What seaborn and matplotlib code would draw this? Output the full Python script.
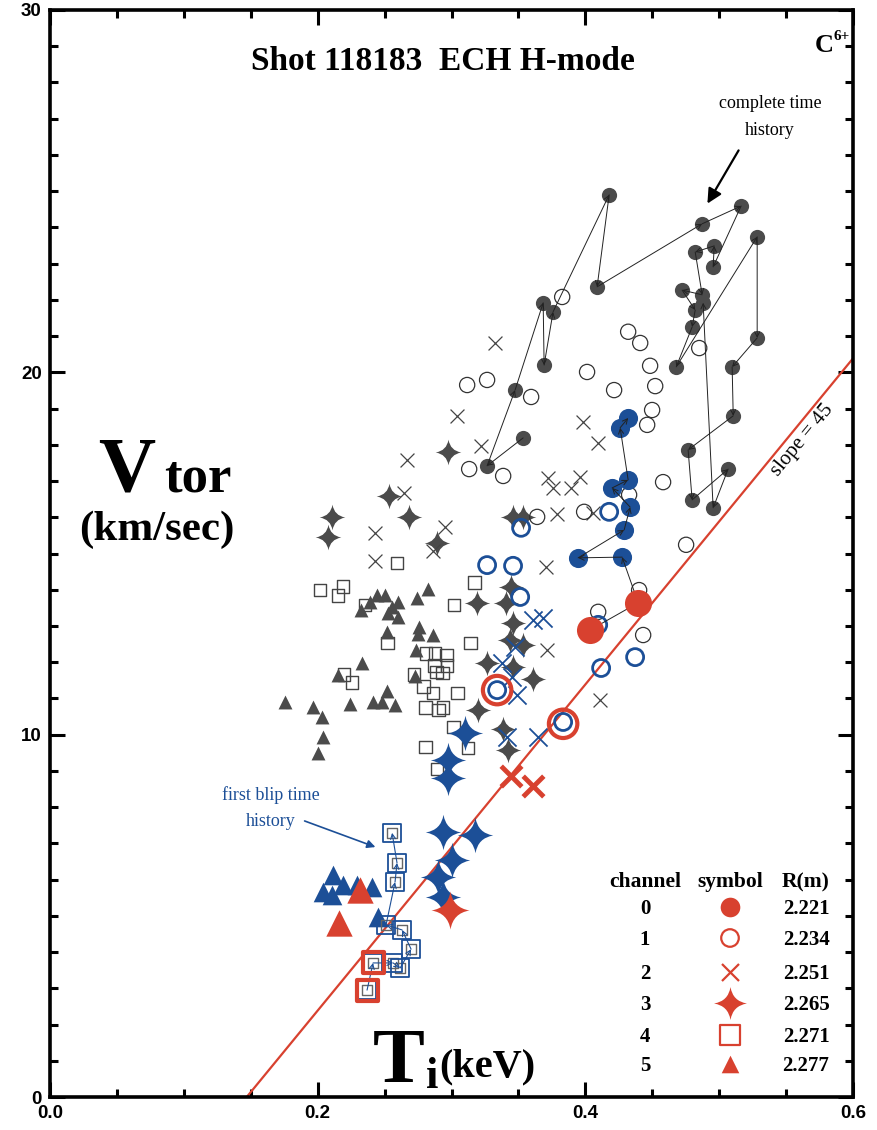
import numpy as np
import pandas as pd
import matplotlib
matplotlib.use("Agg")
import matplotlib.pyplot as plt
from matplotlib.path import Path
from matplotlib.ticker import MultipleLocator, FormatStrFormatter
import seaborn as sns

# ---- data (Ti in keV, Vtor in km/s) ----
# channel 0 : complete time history (grey, time ordered)
ch0_ti = [0.3535, 0.3266, 0.3475, 0.3685, 0.3692, 0.3759, 0.4178, 0.4088, 0.4873, 0.5164,
          0.4955, 0.4963, 0.4821, 0.4873, 0.4723, 0.4821, 0.4798, 0.4679, 0.5284, 0.5284,
          0.5097, 0.5105, 0.4768, 0.4798, 0.5067, 0.4955, 0.4880]
ch0_v = [18.19, 17.42, 19.51, 21.92, 20.20, 21.67, 24.90, 22.36, 24.10, 24.59,
         22.91, 23.49, 23.32, 22.14, 22.27, 21.72, 21.25, 20.15, 23.74, 20.95,
         20.15, 18.80, 17.86, 16.48, 17.33, 16.26, 21.92]
# channel 0 : blip (blue, time ordered, first two red)
ch0b_ti = [0.4036, 0.4395, 0.4275, 0.3946, 0.4290, 0.4335, 0.4200, 0.4320, 0.4260, 0.4320]
ch0b_v = [12.89, 13.64, 14.90, 14.88, 15.65, 16.28, 16.81, 17.03, 18.47, 18.74]
ch0r_ti = [0.4036, 0.4395]
ch0r_v = [12.89, 13.64]

ch1_ti = [0.3827, 0.3266, 0.3117, 0.3595, 0.4013, 0.4320, 0.4410, 0.4484, 0.4215, 0.4522,
          0.4499, 0.4462, 0.4851, 0.3132, 0.3386, 0.4581, 0.3991, 0.3640, 0.4753, 0.4096,
          0.4402, 0.4432, 0.4327]
ch1_v = [22.08, 19.79, 19.65, 19.32, 20.01, 21.12, 20.81, 20.18, 19.51, 19.62,
         18.96, 18.55, 20.67, 17.33, 17.14, 16.97, 16.15, 16.01, 15.24, 13.39,
         13.99, 12.75, 16.62]
ch1b_ti = [0.3520, 0.3266, 0.3460, 0.3513, 0.3341, 0.3834, 0.4178, 0.4096, 0.4118, 0.4372]
ch1b_v = [15.71, 14.68, 14.66, 13.80, 11.23, 10.35, 16.15, 13.03, 11.84, 12.14]
ch1r_ti = [0.3341, 0.3834]
ch1r_v = [11.23, 10.30]

ch2_ti = [0.3326, 0.3042, 0.2668, 0.3221, 0.3984, 0.4096, 0.3722, 0.3759, 0.3894, 0.3961,
          0.3789, 0.4058, 0.2646, 0.2429, 0.2952, 0.2862, 0.2429, 0.3707, 0.3714, 0.4111]
ch2_v = [20.81, 18.80, 17.58, 17.97, 18.63, 18.05, 17.09, 16.81, 16.81, 17.11,
         16.09, 16.12, 16.67, 15.57, 15.73, 15.07, 14.79, 14.63, 12.34, 10.96]
ch2b_ti = [0.3610, 0.3685, 0.3475, 0.3378, 0.3453, 0.3490, 0.3416, 0.3647]
ch2b_v = [13.17, 13.22, 12.42, 11.98, 11.59, 11.10, 9.94, 9.94]
ch2r_ti = [0.3445, 0.3610]
ch2r_v = [8.86, 8.58]

ch3_ti = [0.2534, 0.2108, 0.2683, 0.2078, 0.2892, 0.3460, 0.3535, 0.3191, 0.3408, 0.3445,
          0.3460, 0.3438, 0.3535, 0.3266, 0.3460, 0.3610, 0.3199, 0.3386, 0.3423, 0.2975]
ch3_v = [16.59, 16.01, 16.01, 15.46, 15.29, 16.01, 16.01, 13.64, 13.64, 14.08,
         13.08, 12.61, 12.48, 11.98, 11.87, 11.54, 10.68, 10.16, 9.58, 17.80]
ch3b_ti = [0.3102, 0.2975, 0.2975, 0.2937, 0.3176, 0.3004, 0.2900, 0.2937]
ch3b_v = [10.05, 9.30, 8.80, 7.31, 7.23, 6.54, 6.07, 5.52]
ch3r_ti = [0.2990]
ch3r_v = [5.16]

ch4_ti = [0.2593, 0.2018, 0.2190, 0.2152, 0.2354, 0.3019, 0.3169, 0.2519, 0.3139, 0.2810,
          0.2877, 0.2960, 0.2870, 0.2967, 0.2885, 0.2930, 0.2197, 0.2257, 0.2720, 0.2788,
          0.2862, 0.3042, 0.2803, 0.2900, 0.2937, 0.3012, 0.2803, 0.3124, 0.2892]
ch4_v = [14.74, 13.99, 14.08, 13.83, 13.58, 13.58, 14.19, 12.53, 12.53, 12.25,
         12.25, 12.20, 11.92, 11.92, 11.73, 11.70, 11.65, 11.45, 11.65, 11.32,
         11.15, 11.15, 10.74, 10.68, 10.76, 10.21, 9.66, 9.63, 9.05]
# first blip time history (time ordered, first two red)
ch4b_ti = [0.2369, 0.2414, 0.2564, 0.2616, 0.2698, 0.2631, 0.2511, 0.2578, 0.2593, 0.2556]
ch4b_v = [2.95, 3.70, 3.70, 3.56, 4.08, 4.61, 4.75, 5.93, 6.46, 7.29]
ch4r_ti = [0.2369, 0.2414]
ch4r_v = [2.95, 3.70]

ch5_ti = [0.1756, 0.1966, 0.2033, 0.2040, 0.2003, 0.2332, 0.2152, 0.2242, 0.2414, 0.2519,
          0.2578, 0.2481, 0.2444, 0.2504, 0.2601, 0.2556, 0.2324, 0.2392, 0.2743, 0.2825,
          0.2526, 0.2601, 0.2519, 0.2758, 0.2862, 0.2750, 0.2735, 0.2728]
ch5_v = [10.90, 10.76, 10.49, 9.94, 9.49, 11.98, 11.65, 10.85, 10.90, 11.21,
         10.82, 10.90, 13.86, 13.86, 13.66, 13.52, 13.44, 13.66, 13.77, 14.02,
         13.36, 13.25, 12.83, 12.97, 12.75, 12.78, 12.34, 11.62]
ch5b_ti = [0.2115, 0.2040, 0.2190, 0.2294, 0.2407, 0.2108, 0.2451]
ch5b_v = [6.13, 5.66, 5.85, 5.85, 5.80, 5.58, 4.97]
ch5r_ti = [0.2317, 0.2160]
ch5r_v = [5.71, 4.80]

slope = 45.0        # km/s per keV
ti_zero = 0.147     # keV where line crosses 0
line_ti = [ti_zero, 0.6]

channels = ["0", "1", "2", "3", "4", "5"]
radii = ["2.221", "2.234", "2.251", "2.265", "2.271", "2.277"]

GRAY = "#4b4b4b"
BLUE = "#1c4f97"
RED = "#d8412f"

# concave four point star
star = Path([(0, 1), (0.14, 0.14), (1, 0), (0.14, -0.14), (0, -1), (-0.14, -0.14),
             (-1, 0), (-0.14, 0.14), (0, 1), (0, 1)],
            [Path.MOVETO, Path.CURVE3, Path.CURVE3, Path.CURVE3, Path.CURVE3,
             Path.CURVE3, Path.CURVE3, Path.CURVE3, Path.CURVE3, Path.CLOSEPOLY])

sns.set_style("ticks")
plt.rcParams['font.family'] = ['Liberation Serif', 'DejaVu Serif']
plt.rcParams['text.color'] = 'black'
plt.rcParams['xtick.color'] = 'black'
plt.rcParams['ytick.color'] = 'black'

W, H = 877, 1130
fig = plt.figure(figsize=(W / 100, H / 100), dpi=100)
ax = fig.add_axes([50 / W, 33 / H, 803 / W, 1087 / H])


def pts(px, py):
    return px / W, 1 - py / H


def filled(x, y, m, s, c, z, lw=0):
    sns.scatterplot(x=x, y=y, marker=m, s=s, color=c, edgecolor=c, linewidth=lw,
                    zorder=z, ax=ax, legend=False)


def hollow(x, y, m, s, c, z, lw=1.0):
    sns.scatterplot(x=x, y=y, marker=m, s=s, color=c, facecolor="none", edgecolor=c,
                    linewidth=lw, zorder=z, ax=ax, legend=False)


def cross(x, y, s, c, z, lw=1.0):
    sns.scatterplot(x=x, y=y, marker="x", s=s, color=c, linewidth=lw, zorder=z,
                    ax=ax, legend=False)


def arrows(x, y, c, lw, z):
    for i in range(len(x) - 1):
        ax.annotate("", xy=(x[i + 1], y[i + 1]), xytext=(x[i], y[i]),
                    arrowprops=dict(arrowstyle="->", color=c, lw=lw, shrinkA=0,
                                    shrinkB=0, mutation_scale=9), zorder=z)


# slope line
sns.lineplot(x=line_ti, y=[slope * (t - ti_zero) for t in line_ti], color=RED, lw=1.6,
             ax=ax, zorder=1)

# grey background channels
hollow(ch4_ti, ch4_v, "s", 85, "#444444", 2, 1.0)
filled(ch5_ti, ch5_v, "^", 100, GRAY, 2)
filled(ch3_ti, ch3_v, star, 340, GRAY, 2)
cross(ch2_ti, ch2_v, 100, "#444444", 2, 0.9)
hollow(ch1_ti, ch1_v, "o", 120, "#333333", 2, 0.9)
filled(ch0_ti, ch0_v, "o", 120, GRAY, 2)
arrows(ch0_ti, ch0_v, "#222222", 0.7, 3)

# blue blip points
filled(ch5b_ti, ch5b_v, "^", 200, BLUE, 4)
filled(ch3b_ti, ch3b_v, star, 650, BLUE, 4)
cross(ch2b_ti, ch2b_v, 170, BLUE, 4, 1.3)
hollow(ch1b_ti, ch1b_v, "o", 150, BLUE, 4, 2.0)
filled(ch0b_ti, ch0b_v, "o", 190, BLUE, 4)
hollow(ch4b_ti, ch4b_v, "s", 50, "#666666", 4, 1.0)
hollow(ch4b_ti, ch4b_v, "s", 170, BLUE, 4, 1.3)
arrows(ch0b_ti, ch0b_v, "#222222", 0.7, 5)
arrows(ch4b_ti, ch4b_v, BLUE, 0.8, 5)

# red points
filled(ch5r_ti, ch5r_v, "^", 360, RED, 6)
filled(ch3r_ti, ch3r_v, star, 750, RED, 6)
cross(ch2r_ti, ch2r_v, 220, RED, 6, 3.5)
hollow(ch1r_ti, ch1r_v, "o", 420, RED, 6, 3.0)
filled(ch0r_ti, ch0r_v, "o", 380, RED, 6)
hollow(ch4r_ti, ch4r_v, "s", 230, RED, 6, 3.0)

# axes
ax.set_xlim(0, 0.6)
ax.set_ylim(0, 30)
ax.xaxis.set_major_locator(MultipleLocator(0.2))
ax.xaxis.set_minor_locator(MultipleLocator(0.05))
ax.yaxis.set_major_locator(MultipleLocator(10))
ax.yaxis.set_minor_locator(MultipleLocator(1))
ax.xaxis.set_major_formatter(FormatStrFormatter("%.1f"))
ax.yaxis.set_major_formatter(FormatStrFormatter("%d"))
ax.tick_params(which="both", direction="in", top=True, right=True, width=2.2,
               color="black", labelcolor="black")
ax.tick_params(which="major", length=11, pad=6)
ax.tick_params(which="minor", length=6)
for lab in ax.get_xticklabels() + ax.get_yticklabels():
    lab.set_fontfamily("Liberation Sans")
    lab.set_fontweight("bold")
    lab.set_fontsize(13.5)
for sp in ax.spines.values():
    sp.set_linewidth(2.6)
    sp.set_color("black")
ax.set_xlabel("")
ax.set_ylabel("")

# texts
fig.text(*pts(443, 70), "Shot 118183  ECH H-mode", ha="center", va="baseline",
         fontsize=24, fontweight="bold")
fig.text(*pts(815, 52), "C", ha="left", va="baseline", fontsize=19, fontweight="bold")
fig.text(*pts(834, 40), "6+", ha="left", va="baseline", fontsize=11, fontweight="bold")
fig.text(*pts(770, 108), "complete time", ha="center", va="baseline", fontsize=13)
fig.text(*pts(770, 135), "history", ha="center", va="baseline", fontsize=13)
fig.add_artist(matplotlib.patches.FancyArrowPatch(
    pts(740, 148), pts(706, 206), transform=fig.transFigure, arrowstyle="-|>",
    mutation_scale=22, lw=1.6, color="black"))

fig.text(*pts(98, 490), "V", ha="left", va="baseline", fontsize=57, fontweight="bold")
fig.text(*pts(164, 492), "tor", ha="left", va="baseline", fontsize=38, fontweight="bold")
fig.text(*pts(157, 540), "(km/sec)", ha="center", va="baseline", fontsize=31,
         fontweight="bold")

fig.text(*pts(373, 1082), "T", ha="left", va="baseline", fontsize=56, fontweight="bold")
fig.text(*pts(426, 1088), "i", ha="left", va="baseline", fontsize=32, fontweight="bold")
fig.text(*pts(439, 1076), "(keV)", ha="left", va="baseline", fontsize=29,
         fontweight="bold")

fig.text(*pts(802, 440), "slope = 45", ha="center", va="center", fontsize=15,
         rotation=50.6)

fig.text(*pts(271, 800), "first blip time", ha="center", va="baseline", fontsize=13,
         color=BLUE)
fig.text(*pts(271, 826), "history", ha="center", va="baseline", fontsize=13,
         color=BLUE)
fig.add_artist(matplotlib.patches.FancyArrowPatch(
    pts(302, 820), pts(378, 848), transform=fig.transFigure, arrowstyle="-|>",
    mutation_scale=12, lw=1.2, color=BLUE))

# legend table
hdr_y = 887
fig.text(*pts(645, hdr_y), "channel", ha="center", va="baseline", fontsize=15.5,
         fontweight="bold")
fig.text(*pts(730, hdr_y), "symbol", ha="center", va="baseline", fontsize=15.5,
         fontweight="bold")
fig.text(*pts(806, hdr_y), "R(m)", ha="center", va="baseline", fontsize=15.5,
         fontweight="bold")
row_y = [907, 938, 972, 1003, 1035, 1064]
leg_markers = [("o", "fill", 200), ("o", "open", 160), ("x", "x", 150),
               (star, "fill", 560), ("s", "open", 200), ("^", "fill", 160)]
for ch, r, yy, (m, kind, s) in zip(channels, radii, row_y, leg_markers):
    fig.text(*pts(645, yy + 7), ch, ha="center", va="baseline", fontsize=15,
             fontweight="bold")
    fig.text(*pts(806, yy + 7), r, ha="center", va="baseline", fontsize=15,
             fontweight="bold")
    ax_x = (730 - 50) / 803
    ax_y = (1097 - yy) / 1087
    if kind == "fill":
        ax.scatter([ax_x], [ax_y], marker=m, s=s, color=RED, linewidth=0,
                   transform=ax.transAxes, clip_on=False, zorder=7)
    elif kind == "open":
        ax.scatter([ax_x], [ax_y], marker=m, s=s, facecolor="none", edgecolor=RED,
                   linewidth=1.6, transform=ax.transAxes, clip_on=False, zorder=7)
    else:
        ax.scatter([ax_x], [ax_y], marker=m, s=s, color=RED, linewidth=1.6,
                   transform=ax.transAxes, clip_on=False, zorder=7)

fig.savefig("out.png", dpi=100)
